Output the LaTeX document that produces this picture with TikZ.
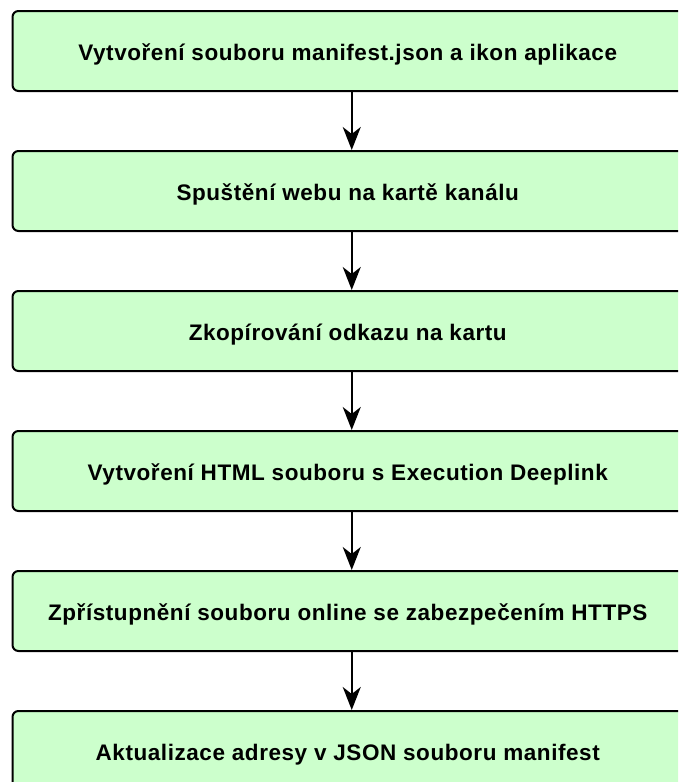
\documentclass[tikz,border=0pt]{standalone}
\usepackage{fontspec}
\setmainfont{Liberation Sans}[LetterSpace=2.5]
\usetikzlibrary{arrows.meta}
\definecolor{stepfill}{HTML}{CCFFCC}
\newcommand{\steptext}[1]{\hspace*{-8pt}#1}
\tikzset{
  stepbox/.style={draw=black, line width=2pt, fill=stepfill, rounded corners=6pt,
    minimum width=678.5pt, minimum height=80pt, inner sep=0pt,
    text height=22pt, text depth=4pt,
    font=\fontsize{22.5}{27}\selectfont\bfseries},
  flow/.style={line width=2pt, -{Stealth[length=23pt,width=18pt,inset=7pt]}}
}
\begin{document}
\begin{tikzpicture}[x=1pt,y=1pt]
\useasboundingbox (0,0) rectangle (678,-782);
\clip (0,0) rectangle (678,-782);
\node[stepbox] (s1) at (351.75,-51)  {\steptext{Vytvoření souboru manifest.json a ikon aplikace}};
\node[stepbox] (s2) at (351.75,-191) {\steptext{Spuštění webu na kartě kanálu}};
\node[stepbox] (s3) at (351.75,-331) {\steptext{Zkopírování odkazu na kartu}};
\node[stepbox] (s4) at (351.75,-471) {\steptext{Vytvoření HTML souboru s Execution Deeplink}};
\node[stepbox] (s5) at (351.75,-611) {\steptext{Zpřístupnění souboru online se zabezpečením HTTPS}};
\node[stepbox] (s6) at (351.75,-751) {\steptext{Aktualizace adresy v JSON souboru manifest}};
\draw[flow] (s1) -- (s2);
\draw[flow] (s2) -- (s3);
\draw[flow] (s3) -- (s4);
\draw[flow] (s4) -- (s5);
\draw[flow] (s5) -- (s6);
\end{tikzpicture}
\end{document}
